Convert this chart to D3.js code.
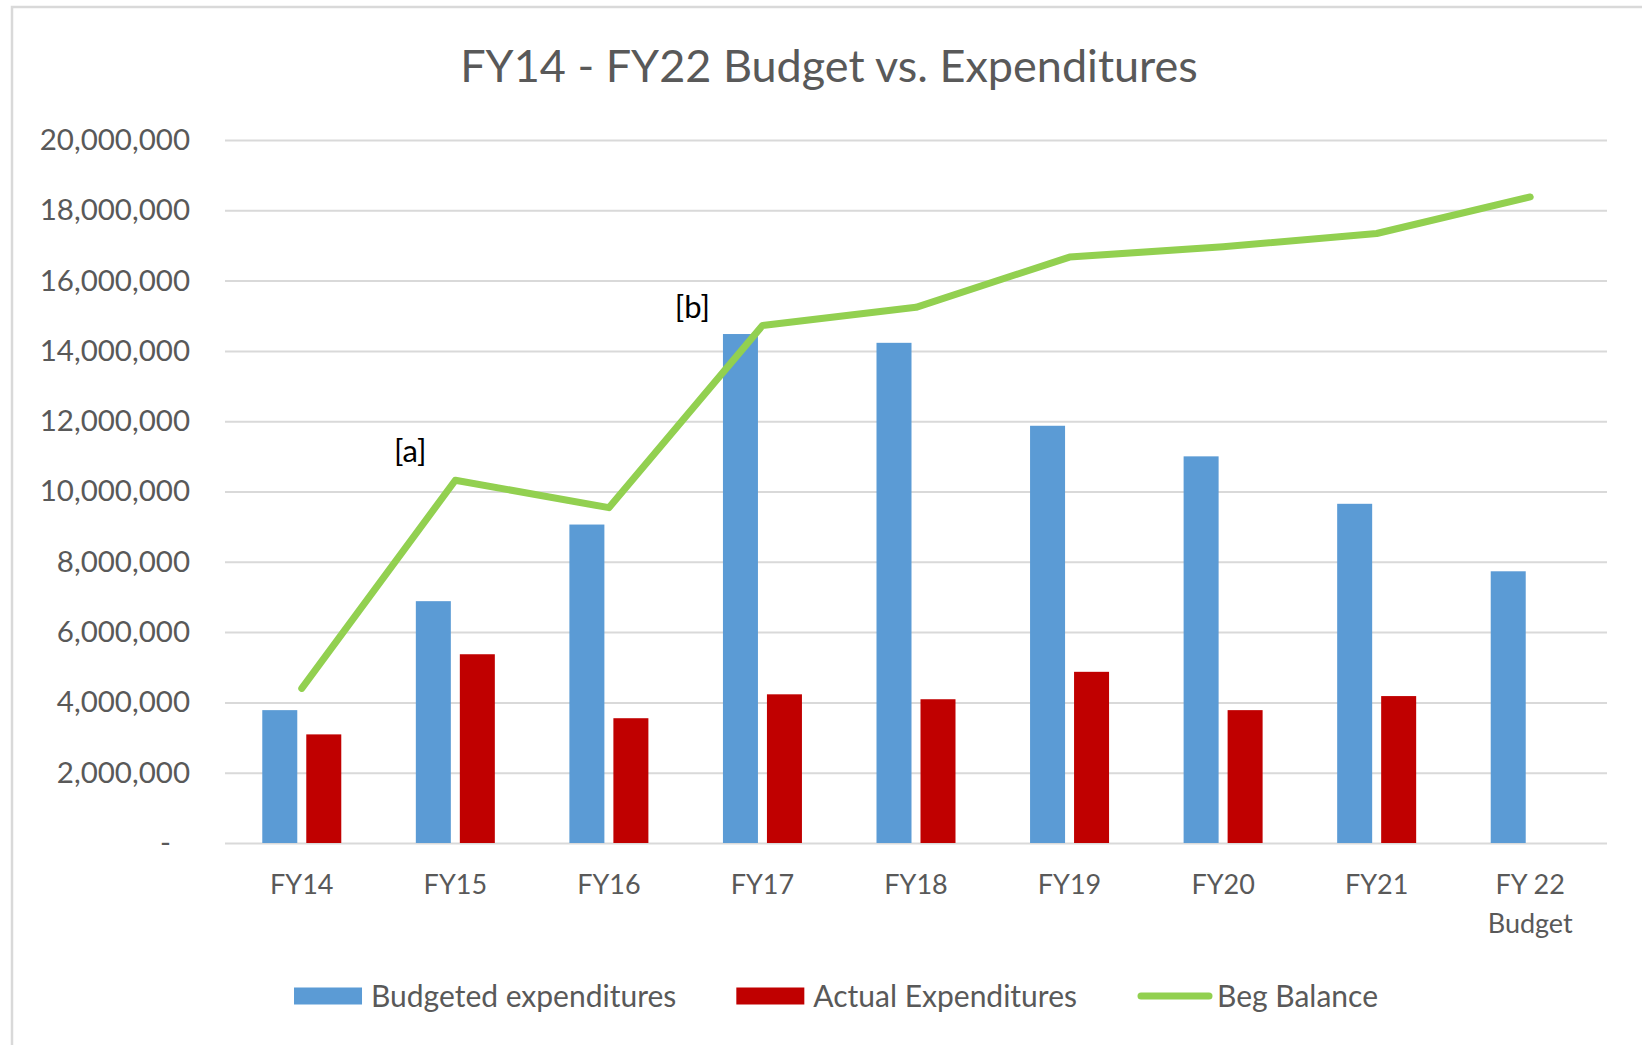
<!DOCTYPE html>
<html>
<head>
<meta charset="utf-8">
<script src="https://cdn.jsdelivr.net/npm/d3@7"></script>
<style>
  html, body { margin: 0; padding: 0; background: #fff; }
  text { font-family: Lato, "Open Sans", sans-serif; }
</style>
</head>
<body>
<svg id="chart" width="1642" height="1045"></svg>
<script>
// Chart data
const categories = ["FY14", "FY15", "FY16", "FY17", "FY18", "FY19", "FY20", "FY21", "FY 22|Budget"];
const budgeted = [3780000, 6880000, 9060000, 14480000, 14230000, 11870000, 11000000, 9650000, 7730000];
const actual = [3090000, 5370000, 3550000, 4230000, 4090000, 4870000, 3780000, 4180000, null];
const begBalance = [4400000, 10320000, 9540000, 14720000, 15240000, 16670000, 16960000, 17340000, 18380000];
const yTicks = [0, 2000000, 4000000, 6000000, 8000000, 10000000, 12000000, 14000000, 16000000, 18000000, 20000000];
const seriesNames = ["Budgeted expenditures", "Actual Expenditures", "Beg Balance"];
const notes = [{ label: "[a]", cat: "FY15", value: 10850000, dx: -45 }, { label: "[b]", cat: "FY17", value: 14930000, dx: -70 }];

const colors = { budget: "#5B9BD5", actual: "#C00000", balance: "#92D050" };
const textGray = "#595959";

const svg = d3.select("#chart");
const margin = { left: 225, right: 35, top: 140, bottom: 202 };
const width = +svg.attr("width");
const height = +svg.attr("height");

// Outer chart border
svg.append("rect")
    .attr("x", 12).attr("y", 7)
    .attr("width", width + 20).attr("height", height + 20)
    .attr("fill", "#fff")
    .attr("stroke", "#D9D9D9")
    .attr("stroke-width", 2.5);

const x = d3.scaleBand().domain(categories).range([margin.left, width - margin.right]);
const y = d3.scaleLinear().domain([0, 20000000]).range([height - margin.bottom, margin.top]);
// bars sit in the middle part of each band
const xInner = d3.scaleBand().domain(["budget", "actual"])
    .range([x.bandwidth() / 2 - 39.5, x.bandwidth() / 2 + 39.5])
    .paddingInner(0.2045);

// Title
svg.append("text")
    .attr("x", 829).attr("y", 82)
    .attr("text-anchor", "middle")
    .attr("fill", textGray)
    .style("font-size", "45px")
    .text("FY14 - FY22 Budget vs. Expenditures");

// Y axis with gridlines
const fmt = d3.format(",");
const yAxis = svg.append("g")
    .attr("transform", `translate(${margin.left},0)`)
    .call(d3.axisLeft(y)
        .tickValues(yTicks)
        .tickSize(-(width - margin.left - margin.right))
        .tickPadding(35)
        .tickFormat(d => d === 0 ? "-" : fmt(d)));
yAxis.select(".domain").remove();
yAxis.selectAll(".tick line").attr("stroke", "#D9D9D9").attr("stroke-width", 2);
yAxis.selectAll(".tick text")
    .attr("fill", textGray)
    .style("font-size", "29.5px")
    .attr("dx", d => d === 0 ? -19 : 0);

// Bars
const groups = svg.append("g").selectAll("g")
    .data(categories)
    .join("g")
    .attr("transform", d => `translate(${x(d)},0)`);

groups.append("rect")
    .attr("x", xInner("budget"))
    .attr("width", xInner.bandwidth())
    .attr("y", (d, i) => y(budgeted[i]))
    .attr("height", (d, i) => y(0) - y(budgeted[i]))
    .attr("fill", colors.budget);

groups.filter((d, i) => actual[i] != null).append("rect")
    .attr("x", xInner("actual"))
    .attr("width", xInner.bandwidth())
    .attr("y", d => y(actual[categories.indexOf(d)]))
    .attr("height", d => y(0) - y(actual[categories.indexOf(d)]))
    .attr("fill", colors.actual);

// Beg Balance line
const line = d3.line()
    .x((d, i) => x(categories[i]) + x.bandwidth() / 2)
    .y(d => y(d));

svg.append("path")
    .datum(begBalance)
    .attr("d", line)
    .attr("fill", "none")
    .attr("stroke", colors.balance)
    .attr("stroke-width", 7)
    .attr("stroke-linecap", "round")
    .attr("stroke-linejoin", "round");

// Category labels (multi-line)
const xLabels = svg.append("g").selectAll("text")
    .data(categories)
    .join("text")
    .attr("x", d => x(d) + x.bandwidth() / 2)
    .attr("y", y(0) + 51)
    .attr("text-anchor", "middle")
    .attr("fill", textGray)
    .style("font-size", "27px");
xLabels.selectAll("tspan")
    .data(d => d.split("|"))
    .join("tspan")
    .attr("x", function () { return this.parentNode.getAttribute("x"); })
    .attr("dy", (d, i) => i === 0 ? 0 : 39)
    .text(d => d);

// Annotations
svg.append("g").selectAll("text")
    .data(notes)
    .join("text")
    .attr("x", d => x(d.cat) + x.bandwidth() / 2 + d.dx)
    .attr("y", d => y(d.value))
    .attr("text-anchor", "middle")
    .attr("fill", "#000")
    .style("font-size", "31px")
    .text(d => d.label);

// Legend
const legend = svg.append("g").attr("transform", "translate(0,996)");
const items = legend.selectAll("g")
    .data(seriesNames)
    .join("g");
items.each(function (d, i) {
    const g = d3.select(this);
    if (i < 2) {
        g.append("rect")
            .attr("x", 0).attr("y", -8.5)
            .attr("width", 68).attr("height", 17)
            .attr("fill", i === 0 ? colors.budget : colors.actual);
    } else {
        g.append("line")
            .attr("x1", 4).attr("x2", 72)
            .attr("stroke", colors.balance)
            .attr("stroke-width", 7)
            .attr("stroke-linecap", "round");
    }
    g.append("text")
        .attr("x", i < 2 ? 77 : 80)
        .attr("dy", "0.35em")
        .attr("fill", textGray)
        .style("font-size", "30px")
        .text(d);
});
// place items side by side, centred
let widths = [];
items.each(function () { widths.push(this.getBBox().width); });
const gap = 60;
const total = d3.sum(widths) + gap * (widths.length - 1);
let cursor = 834 - total / 2;
items.attr("transform", (d, i) => {
    const t = `translate(${cursor},0)`;
    cursor += widths[i] + gap;
    return t;
});
</script>
</body>
</html>
